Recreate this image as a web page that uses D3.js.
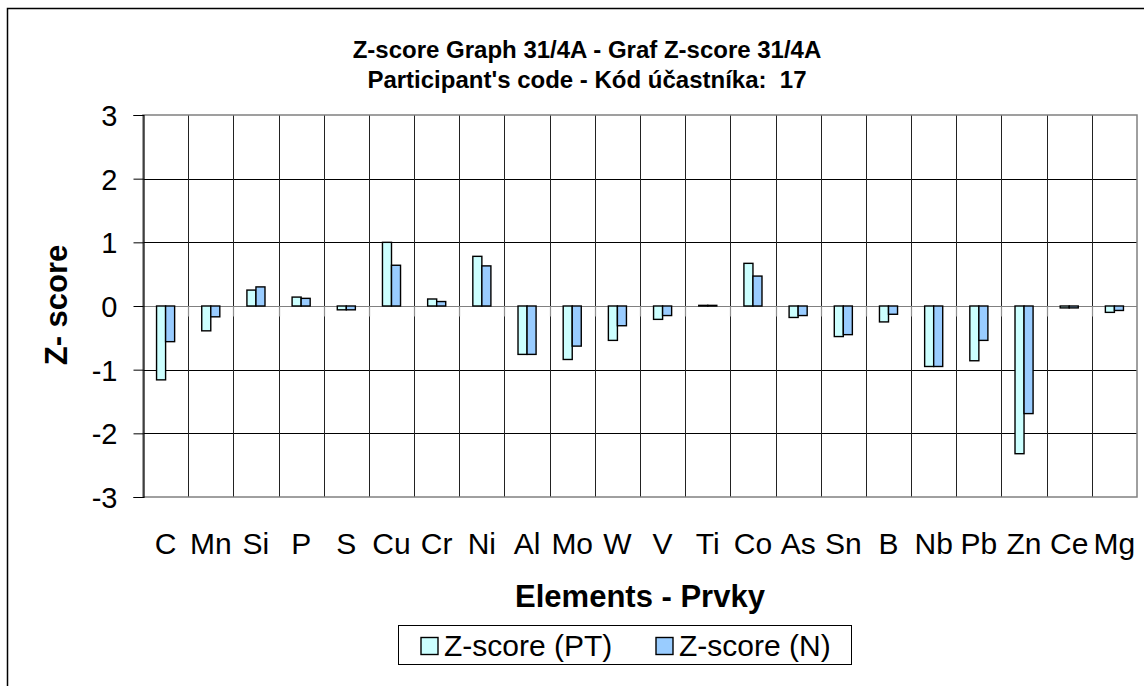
<!DOCTYPE html>
<html><head><meta charset="utf-8">
<script src="https://cdn.jsdelivr.net/npm/d3@7"></script>
<style>
html,body{margin:0;padding:0;background:#fff;}
svg{display:block;font-family:"Liberation Sans",Arial,sans-serif;}
text{white-space:pre;}
</style></head>
<body>
<svg id="c" width="1144" height="686"></svg>
<script>
const categories = ["C","Mn","Si","P","S","Cu","Cr","Ni","Al","Mo","W","V","Ti","Co","As","Sn","B","Nb","Pb","Zn","Ce","Mg"];
const zPT = [-1.16,-0.39,0.25,0.14,-0.06,1.00,0.11,0.78,-0.76,-0.84,-0.54,-0.21,0.01,0.67,-0.18,-0.48,-0.25,-0.95,-0.86,-2.32,-0.03,-0.10];
const zN  = [-0.56,-0.17,0.30,0.12,-0.06,0.64,0.07,0.63,-0.76,-0.63,-0.31,-0.15,0.01,0.47,-0.15,-0.45,-0.13,-0.95,-0.54,-1.69,-0.03,-0.07];
const yTicks = [-3,-2,-1,0,1,2,3];
const seriesNames = ["Z-score (PT)","Z-score (N)"];
const seriesColors = ["#CCFFFF","#99CCFF"];
const titleLines = ["Z-score Graph 31/4A - Graf Z-score 31/4A","Participant's code - Kód účastníka:  17"];
const xTitle = "Elements - Prvky";
const yTitle = "Z- score";

const svg = d3.select("#c");
const L = 143, R = 1137, T = 115, B = 497;

// chart border
svg.append("rect").attr("x",7.5).attr("y",8.5).attr("width",1150).attr("height",700)
  .attr("fill","none").attr("stroke","#000").attr("stroke-width",1.5);

const x = d3.scaleBand().domain(categories).range([L,R]).padding(0);
const y = d3.scaleLinear().domain([-3,3]).range([B,T]);
const bw = x.bandwidth();

// horizontal gridlines
svg.append("g").selectAll("line").data(yTicks.filter(d=>d!==0 && d!==3 && d!==-3)).join("line")
  .attr("x1",L).attr("x2",R).attr("y1",d=>Math.round(y(d))+0.5).attr("y2",d=>Math.round(y(d))+0.5)
  .attr("stroke","#000").attr("stroke-width",1);

// vertical gridlines at category boundaries
svg.append("g").selectAll("line").data(categories.slice(1)).join("line")
  .attr("x1",d=>Math.round(x(d))+0.5).attr("x2",d=>Math.round(x(d))+0.5).attr("y1",T).attr("y2",B)
  .attr("stroke","#222").attr("stroke-width",1);

// plot border
svg.append("rect").attr("x",L).attr("y",T).attr("width",R-L).attr("height",B-T)
  .attr("fill","none").attr("stroke","#808080").attr("stroke-width",1.5);

// zero axis with tick marks
const y0 = Math.round(y(0))+0.5;
svg.append("line").attr("x1",L).attr("x2",R).attr("y1",y0).attr("y2",y0).attr("stroke","#808080").attr("stroke-width",1.2);
svg.append("g").selectAll("line").data(categories.slice(1)).join("line")
  .attr("x1",d=>Math.round(x(d))+0.5).attr("x2",d=>Math.round(x(d))+0.5).attr("y1",y0).attr("y2",y0+10)
  .attr("stroke","#909090").attr("stroke-width",1.2);

// y axis
const yAxis = d3.axisLeft(y).tickValues(yTicks).tickSize(10).tickPadding(16).tickFormat(d=>String(d));
const ga = svg.append("g").attr("transform",`translate(${L+0.5},0)`).call(yAxis);
ga.select(".domain").attr("stroke","#000").attr("stroke-width",1.2);
ga.selectAll(".tick line").attr("stroke","#000");
ga.selectAll(".tick text").attr("font-size",29).attr("font-family","Liberation Sans, Arial, sans-serif").attr("fill","#000").attr("dy","0.36em");

// bars
const data = categories.map((c,i)=>({c, v:[zPT[i], zN[i]]}));
const g = svg.append("g");
data.forEach(d=>{
  d.v.forEach((v,k)=>{
    const x0 = x(d.c) + bw*0.3 + k*bw*0.2;
    const ya = y(Math.max(0,v)), yb = y(Math.min(0,v));
    g.append("rect").attr("x",x0).attr("y",ya).attr("width",bw*0.2).attr("height",Math.max(0.5,yb-ya))
      .attr("fill",seriesColors[k]).attr("stroke","#000").attr("stroke-width",1.4);
  });
});

// x labels
svg.append("g").selectAll("text").data(categories).join("text")
  .attr("x",d=>x(d)+bw/2).attr("y",554).attr("text-anchor","middle")
  .attr("font-size",30).attr("fill","#000").text(d=>d);

// titles
svg.append("g").selectAll("text").data(titleLines).join("text")
  .attr("x",587).attr("y",(d,i)=>58+i*30).attr("text-anchor","middle")
  .attr("font-size",24).attr("font-weight","bold").attr("fill","#000").text(d=>d);

svg.append("text").attr("x",640).attr("y",607).attr("text-anchor","middle")
  .attr("font-size",31).attr("font-weight","bold").text(xTitle);

svg.append("text").attr("transform","translate(67,305) rotate(-90)").attr("text-anchor","middle")
  .attr("font-size",31).attr("font-weight","bold").text(yTitle);

// legend
const lg = svg.append("g");
lg.append("rect").attr("x",398.5).attr("y",625.5).attr("width",453).attr("height",39)
  .attr("fill","#fff").attr("stroke","#000").attr("stroke-width",1);
const legX = [421, 656];
seriesNames.forEach((n,k)=>{
  lg.append("rect").attr("x",legX[k]).attr("y",637.5).attr("width",17).attr("height",17)
    .attr("fill",seriesColors[k]).attr("stroke","#000").attr("stroke-width",1.4);
  lg.append("text").attr("x",legX[k]+23).attr("y",656).attr("font-size",30).attr("fill","#000").text(n);
});
</script>
</body></html>
